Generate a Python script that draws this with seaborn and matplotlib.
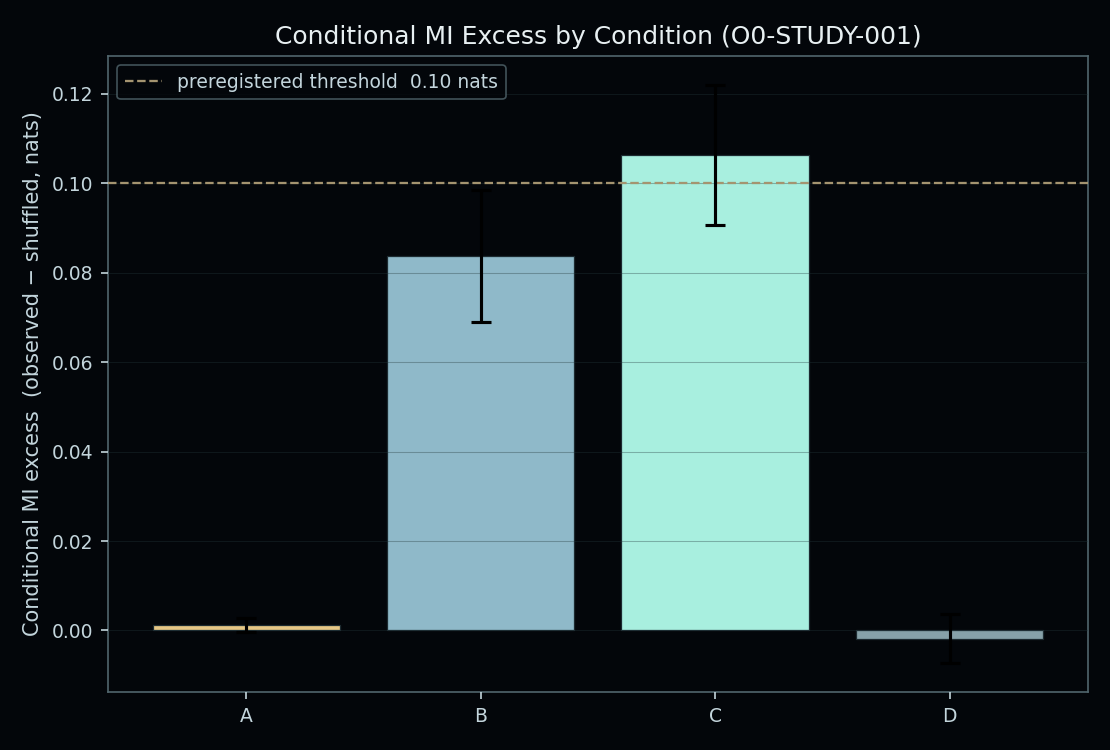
import pandas as pd
import matplotlib
matplotlib.use("Agg")
import matplotlib.pyplot as plt
import seaborn as sns

# données
conditions = ["A", "B", "C", "D"]
mi_excess = [0.0012, 0.0837, 0.1063, -0.0018]
mi_err = [0.0016, 0.0148, 0.0157, 0.0055]
bar_colors = ["#e6c786", "#8fb9c9", "#a8efdf", "#86a1a9"]
threshold = 0.10

bg = "#03060a"
fg = "#c3d5dc"
spine_c = "#51666d"

sns.set_theme(style="dark")
plt.rcParams.update({
    "figure.facecolor": bg,
    "axes.facecolor": bg,
    "axes.edgecolor": spine_c,
    "axes.labelcolor": fg,
    "xtick.color": fg,
    "ytick.color": fg,
    "text.color": fg,
})
plt.rcParams['font.family'] = ['DejaVu Sans']

df = pd.DataFrame({"Condition": conditions, "MI": mi_excess, "err": mi_err})

fig, ax = plt.subplots(figsize=(7.4, 5.0), dpi=150)
sns.barplot(data=df, x="Condition", y="MI", hue="Condition", palette=bar_colors,
            saturation=1, errorbar=None, width=0.8, alpha=1,
            edgecolor="#1c2a30", linewidth=0.6, legend=False, ax=ax)
ax.errorbar(range(len(conditions)), df["MI"], yerr=df["err"], fmt="none",
            ecolor="black", elinewidth=1.5, capsize=5, capthick=1.5, zorder=5)
ax.axhline(threshold, color="#a49470", linestyle="--", linewidth=1.1,
           label=f"preregistered threshold  {threshold:.2f} nats", zorder=4)

ax.margins(x=0.05, y=0.05)
ax.autoscale_view()
ax.grid(axis="y", color="#24383c", linewidth=0.5, alpha=0.35)
ax.set_axisbelow(False)
for s in ax.spines.values():
    s.set_visible(True)
    s.set_color(spine_c)
    s.set_linewidth(0.8)
ax.tick_params(axis="both", which="both", length=3.5, width=0.8, color=fg, labelsize=9,
               left=True, bottom=True)

ax.set_xlabel("")
ax.set_ylabel("Conditional MI excess  (observed \u2212 shuffled, nats)", fontsize=10)
ax.set_title("Conditional MI Excess by Condition (O0-STUDY-001)", fontsize=12,
             color="#e8f0f2")

leg = ax.legend(loc="upper left", fontsize=9, frameon=True, facecolor=bg,
                edgecolor=spine_c, labelcolor=fg)
leg.get_frame().set_linewidth(0.8)

fig.subplots_adjust(left=0.0973, right=0.98, top=0.9253, bottom=0.0773)
fig.savefig("out.png", dpi=150, facecolor=bg)
